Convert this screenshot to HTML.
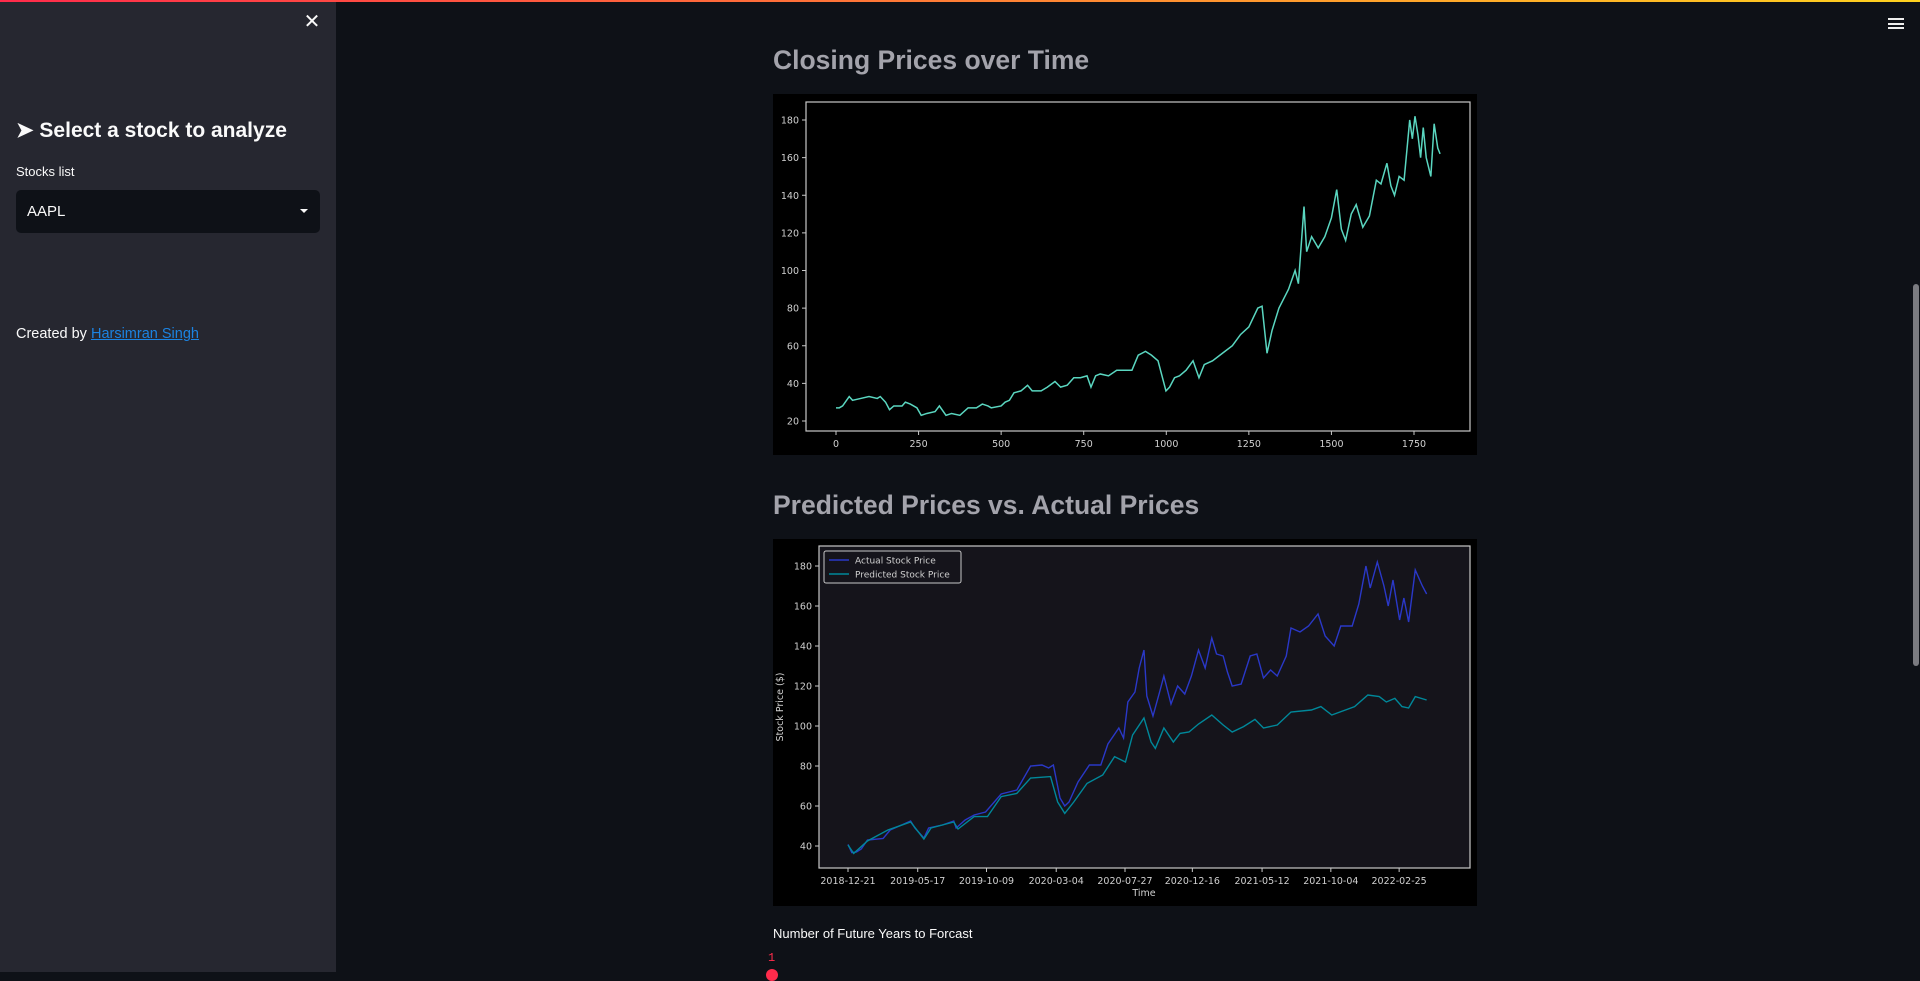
<!DOCTYPE html>
<html><head><meta charset="utf-8">
<style>
html,body{margin:0;padding:0;width:1920px;height:972px;overflow:hidden;background:#0e1117;font-family:"Liberation Sans",sans-serif;}
.abs{position:absolute;}
#topbar{left:0;top:0;width:1920px;height:2px;background:linear-gradient(90deg,#ff2b4b,#ffd21f);}
#sidebar{left:0;top:2px;width:336px;height:970px;background:#262730;}
h2{margin:0;}
svg text{font-family:"DejaVu Sans","Liberation Sans",sans-serif;}
</style></head><body>
<div class="abs" id="topbar"></div>
<div class="abs" id="sidebar">
  <div class="abs" style="left:302px;top:10px;width:20px;height:20px;color:#fafafa;font-size:20px;line-height:20px;text-align:center;">✕</div>
  <div class="abs" style="left:16px;top:116px;color:#fafafa;font-weight:bold;font-size:21px;white-space:nowrap;">➤ Select a stock to analyze</div>
  <div class="abs" style="left:16px;top:162px;color:#fafafa;font-size:13px;">Stocks list</div>
  <div class="abs" style="left:16px;top:188px;width:304px;height:43px;background:#0e1117;border-radius:5px;">
    <div class="abs" style="left:11px;top:13px;color:#fafafa;font-size:15px;">AAPL</div>
    <div class="abs" style="left:284px;top:19px;width:0;height:0;border-left:4px solid transparent;border-right:4px solid transparent;border-top:4px solid #fafafa;"></div>
  </div>
  <div class="abs" style="left:16px;top:324px;color:#fafafa;font-size:14.5px;white-space:nowrap;">Created by <a href="#" style="color:#1c83e1;">Harsimran Singh</a></div>
</div>
<div class="abs" style="left:1888px;top:18px;width:16px;height:11px;">
  <div style="height:2px;background:#eee;margin-bottom:2.5px"></div><div style="height:2px;background:#eee;margin-bottom:2.5px"></div><div style="height:2px;background:#eee"></div>
</div>
<div class="abs" style="left:1913px;top:284px;width:6px;height:382px;background:#7a7b80;border-radius:3px;"></div>

<h2 class="abs" style="left:773px;top:45px;color:#a3a3ab;font-size:26.5px;white-space:nowrap;">Closing Prices over Time</h2>
<svg class="abs" id="c1" style="left:773px;top:94px" width="704" height="361"></svg>

<h2 class="abs" style="left:773px;top:490px;color:#a3a3ab;font-size:26.5px;white-space:nowrap;">Predicted Prices vs. Actual Prices</h2>
<svg class="abs" id="c2" style="left:773px;top:539px" width="704" height="367"></svg>

<div class="abs" style="left:773px;top:926px;color:#fafafa;font-size:13px;white-space:nowrap;">Number of Future Years to Forcast</div>
<div class="abs" style="left:768px;top:951px;color:#ff2b4b;font-size:12px;font-family:'Liberation Mono',monospace;">1</div>
<div class="abs" style="left:766px;top:969px;width:12px;height:12px;border-radius:6px;background:#ff2b4b;"></div>

<script>
const NS='http://www.w3.org/2000/svg';
// Chart 1 data
const closeIdx=[0,10,20,32,40,50,75,100,125,134,150,162,175,200,210,225,245,258,275,300,313,333,350,375,400,425,443,460,470,500,512,525,539,560,580,594,621,640,663,680,700,720,740,760,772,786,800,825,850,870,896,915,937,955,975,999,1010,1025,1040,1060,1081,1099,1115,1140,1170,1200,1225,1250,1277,1290,1305,1320,1341,1370,1390,1400,1417,1425,1440,1460,1480,1500,1516,1530,1543,1560,1575,1595,1615,1636,1650,1668,1680,1691,1705,1720,1737,1745,1753,1762,1770,1778,1787,1801,1811,1822,1829];
const closeVal=[27,27,28,31,33,31,32,33,32,33,30,26,28,28,30,29,27,23,24,25,28,23,24,23,27,27,29,28,27,28,30,31,35,36,39,36,36,38,41,38,39,43,43,44,38,44,45,44,47,47,47,55,57,55,52,36,38,43,44,47,52,43,50,52,56,60,66,70,80,81,56,68,80,90,100,93,134,110,118,112,118,128,143,122,116,130,135,123,129,148,146,157,145,140,150,148,180,170,182,172,160,176,160,150,178,165,162];
const c1X=[0,250,500,750,1000,1250,1500,1750];
const c1Y=[20,40,60,80,100,120,140,160,180];
// Chart 2 data (days since 2018-12-21)
const tickDates=['2018-12-21','2019-05-17','2019-10-09','2020-03-04','2020-07-27','2020-12-16','2021-05-12','2021-10-04','2022-02-25'];
const tickDays=[0,147,292,439,584,726,873,1018,1162];
const actDay=[0,8,18,28,41,74,89,113,132,141,160,170,199,223,228,247,266,290,323,356,385,409,423,433,447,457,466,485,509,533,548,571,581,590,605,614,624,630,643,657,666,681,695,710,724,739,753,767,777,791,800,810,829,848,862,876,891,905,924,934,953,971,991,1006,1025,1039,1063,1077,1092,1101,1116,1130,1139,1149,1163,1172,1182,1196,1211,1220];
const actVal=[40.8,36.7,37,38.5,43,43.8,48,50.5,52.5,49,44,49,50.5,52.5,49,53,55.5,57,66,68,80,80.5,79,80.5,64,60,62,72,80.5,80.5,91,99,94,112,117,129,138,115,105,117,125,111,120,116,125,138,129,144,136,135,127,120,121,135,136,124,128,125,135,149,147,150,156,145,140,150,150,161,180,169,182,170,160,173,153,164,152,178,170,166];
const predDay=[0,12,41,84,132,160,175,223,232,266,294,323,356,385,427,442,457,476,504,537,562,585,600,624,639,648,666,686,700,719,739,767,791,810,834,858,876,905,934,977,997,1020,1068,1096,1120,1135,1153,1168,1182,1196,1220];
const predVal=[40.5,36.3,42.5,48,52,43.5,49,52,48.5,54.7,54.7,64.7,66.3,74,74.7,62,56.3,62,71.3,75.5,84.7,82,95.5,104,92,88.8,99,92,96.3,97,101,105.5,100.5,97,99.7,103.3,99,100.5,107,108,109.7,105.5,109.7,115.5,114.7,112,113.8,109.7,109,114.7,113];
const c2Y=[40,60,80,100,120,140,160,180];

function mk(svg,tag,attrs,name){const e=document.createElementNS(NS,tag);for(const k in attrs)e.setAttribute(k,attrs[k]);


svg.appendChild(e);return e;}
function txt(svg,x,y,s,anchor,name,extra){const t=mk(svg,'text',Object.assign({x:x,y:y,fill:'#d0d0d0','font-size':9.5,'text-anchor':anchor},extra||{}),name);t.textContent=s;return t;}

// Chart 1
(function(){
const s=document.getElementById('c1');
const L=33,R=697,T=8,B=337;
const xs=i=>L+30+(i)*(578/1750);
const ys=v=>B-10-(v-20)*(301/160);
mk(s,'rect',{x:0,y:0,width:704,height:361,fill:'#000'},'figure-background');
mk(s,'rect',{x:L,y:T,width:R-L,height:B-T,fill:'#000',stroke:'#c8c8c8','stroke-width':1.2},'plot-area');
c1Y.forEach(v=>{const y=ys(v);mk(s,'line',{x1:L-4,x2:L,y1:y,y2:y,stroke:'#c8c8c8'},'y-tick');txt(s,L-7,y+3.5,String(v),'end','y-tick-label');});
c1X.forEach(v=>{const x=xs(v);mk(s,'line',{x1:x,x2:x,y1:B,y2:B+4,stroke:'#c8c8c8'},'x-tick');txt(s,x,B+16,String(v),'middle','x-tick-label');});
mk(s,'polyline',{points:closeIdx.map((d,i)=>xs(d)+','+ys(closeVal[i])).join(' '),fill:'none',stroke:'#5ad6c0','stroke-width':1.5},'closing-price-line');
})();

// Chart 2
(function(){
const s=document.getElementById('c2');
const L=46,R=697,T=7,B=329;
const xs=d=>75+d*0.4743;
const ys=v=>27+(180-v)*2;
mk(s,'rect',{x:0,y:0,width:704,height:367,fill:'#000'},'figure-background');
mk(s,'rect',{x:L,y:T,width:R-L,height:B-T,fill:'#15141b',stroke:'#c8c8c8','stroke-width':1.2},'plot-area');
c2Y.forEach(v=>{const y=ys(v);mk(s,'line',{x1:L-4,x2:L,y1:y,y2:y,stroke:'#c8c8c8'},'y-tick');txt(s,L-7,y+3.5,String(v),'end','y-tick-label');});
tickDays.forEach((d,i)=>{const x=xs(d);mk(s,'line',{x1:x,x2:x,y1:B,y2:B+4,stroke:'#c8c8c8'},'x-tick');txt(s,x,B+16,tickDates[i],'middle','x-tick-label');});
txt(s,371,357,'Time','middle','x-axis-title');
txt(s,10,168,'Stock Price ($)','middle','y-axis-title',{transform:'rotate(-90 10 168)'});
mk(s,'polyline',{points:actDay.map((d,i)=>xs(d)+','+ys(actVal[i])).join(' '),fill:'none',stroke:'#2a38c8','stroke-width':1.4},'actual-price-line');
mk(s,'polyline',{points:predDay.map((d,i)=>xs(d)+','+ys(predVal[i])).join(' '),fill:'none',stroke:'#00889a','stroke-width':1.4},'predicted-price-line');
mk(s,'rect',{x:51,y:12,width:137,height:32,fill:'#15141b',stroke:'#c8c8c8','stroke-width':1,rx:2},'legend');
mk(s,'line',{x1:56,x2:76,y1:21,y2:21,stroke:'#2a38c8','stroke-width':1.5},'legend-actual-swatch');
txt(s,82,24.5,'Actual Stock Price','start','legend-actual-label',{'font-size':9});
mk(s,'line',{x1:56,x2:76,y1:35,y2:35,stroke:'#00889a','stroke-width':1.5},'legend-predicted-swatch');
txt(s,82,38.5,'Predicted Stock Price','start','legend-predicted-label',{'font-size':9});
})();
</script>
</body></html>
